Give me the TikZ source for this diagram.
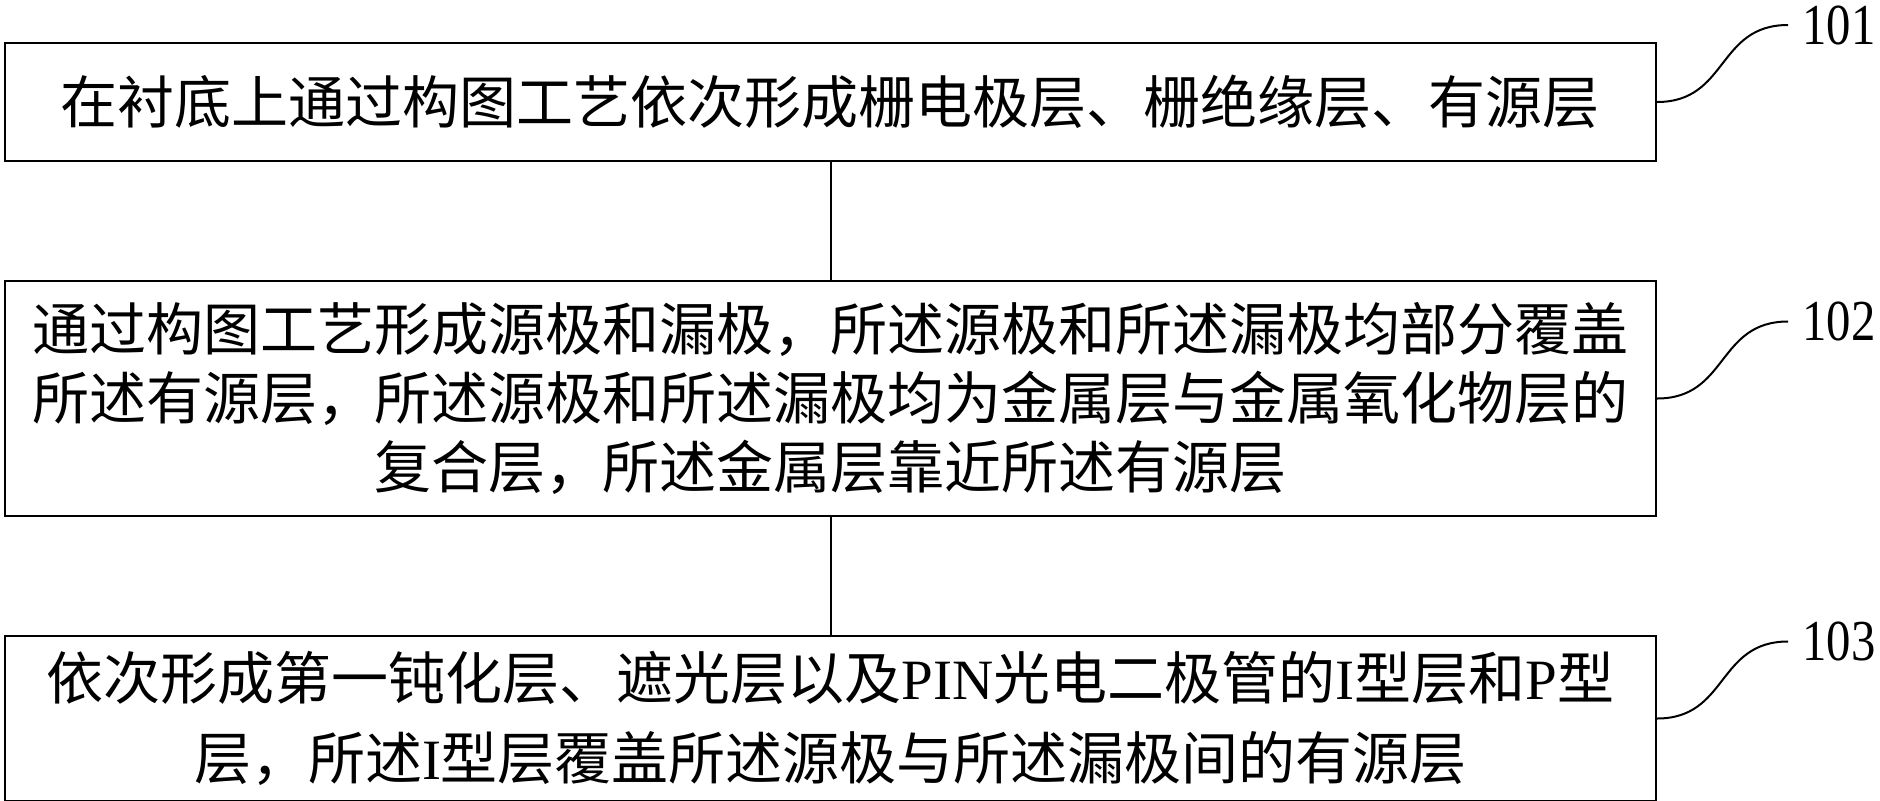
\documentclass[tikz,border=0pt]{standalone}
\usepackage{fontspec}
\usepackage{graphicx}
\setmainfont{Liberation Serif}
\newfontfamily\cjk{Noto Sans CJK SC}
\usepackage{tikz}
\usetikzlibrary{arrows, positioning}

\newcommand{\lat}[1]{{\rmfamily #1}}
\newcommand{\stepno}[1]{\scalebox{0.84}[1]{#1}}
\tikzset{
  stepbox/.style={draw, line width=1pt, minimum width=825.5pt, align=center,
    inner sep=0pt, font=\cjk\fontsize{28.5}{34.5}\selectfont},
  numlabel/.style={inner sep=0pt, font=\fontsize{29}{29}\selectfont},
}

\begin{document}
\begin{tikzpicture}[x=0.5pt, y=-0.5pt, node distance=59pt, auto]
\useasboundingbox (0,0) rectangle (1880,800);

\node[stepbox, minimum height=59pt] (A) at (830.5,102) {在衬底上通过构图工艺依次形成栅电极层、栅绝缘层、有源层};
\node[stepbox, minimum height=117.5pt, below=of A] (B) {通过构图工艺形成源极和漏极，所述源极和所述漏极均部分覆盖\\所述有源层，所述源极和所述漏极均为金属层与金属氧化物层的\\复合层，所述金属层靠近所述有源层};
\node[stepbox, minimum height=82.5pt, below=of B, font=\cjk\fontsize{28.5}{40}\selectfont] (C) {依次形成第一钝化层、遮光层以及\lat{PIN}光电二极管的\lat{I}型层和\lat{P}型\\层，所述\lat{I}型层覆盖所述源极与所述漏极间的有源层};

\path[draw, line width=1pt] (A) edge (B);
\path[draw, line width=1pt] (B) edge (C);

% step numbers
\coordinate[above right=38.5pt and 65.5pt of A.east] (a);
\coordinate[above right=38.5pt and 65.5pt of B.east] (b);
\coordinate[above right=38.5pt and 65.5pt of C.east] (c);
\draw[line width=1pt] (A.east) to[out=0, in=180, looseness=1.2] (a);
\draw[line width=1pt] (B.east) to[out=0, in=180, looseness=1.2] (b);
\draw[line width=1pt] (C.east) to[out=0, in=180, looseness=1.2] (c);
\node[numlabel, right=7pt of a] (LA) {\stepno{101}};
\node[numlabel, right=7pt of b] (LB) {\stepno{102}};
\node[numlabel, right=7pt of c] (LC) {\stepno{103}};
\end{tikzpicture}
\end{document}
